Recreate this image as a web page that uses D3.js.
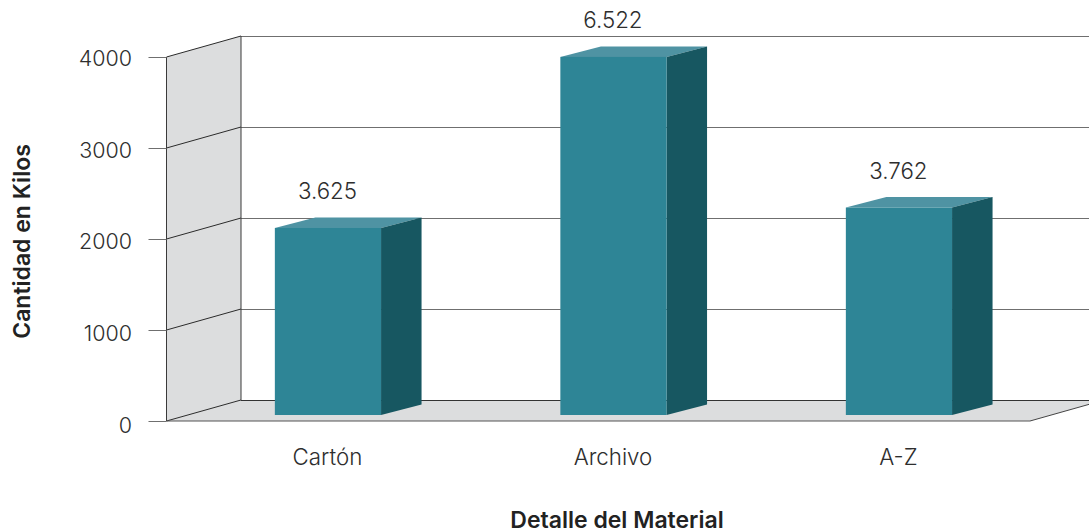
<!DOCTYPE html>
<html>
<head>
<meta charset="utf-8">
<script src="https://cdn.jsdelivr.net/npm/d3@7/dist/d3.min.js"></script>
<style>
html,body{margin:0;padding:0;background:#fff;overflow:hidden}
svg{display:block}
text{font-family:"Inter","Liberation Sans",Arial,sans-serif;fill:#2e2e2e;font-weight:300}
text.title{font-weight:600;fill:#222}
</style>
</head>
<body>
<svg id="c" width="1089" height="532"></svg>
<script>
const categories = ["Cartón", "Archivo", "A-Z"];
const values = [2055, 3935, 2280];
const valueLabels = ["3.625", "6.522", "3.762"];
const yTicks = [0, 1000, 2000, 3000, 4000];
const xTitle = "Detalle del Material";
const yTitle = "Cantidad en Kilos";

const svg = d3.select("#c");
const y = d3.scaleLinear().domain([0, 4000]).range([421, 57]);
const yLabel = d3.scaleLinear().domain([0, 4000]).range([432.5, 66]);
const x = d3.scaleBand().domain(categories).range([185.2, 1041.7]).paddingInner(0.628).paddingOuter(0.314);

const left = 166.5, floorEnd = 1030;
const wallDX = 74.5, wallDY = -21;
const barDX = 40.5, barDY = -10.5, barLift = 6;
const tickSize = 21.5, labelSize = 22.3, titleSize = 23;
const poly = pts => pts.map(p => p.join(",")).join(" ");

// walls
svg.append("polygon").attr("fill", "#dcddde").attr("points", poly([
  [left, y(0)], [left, y(4000)], [left + wallDX, y(4000) + wallDY], [left + wallDX, y(0) + wallDY]
]));
svg.append("polygon").attr("fill", "#dcddde").attr("points", poly([
  [left, y(0)], [left + wallDX, y(0) + wallDY], [floorEnd + wallDX, y(0) + wallDY], [floorEnd, y(0)]
]));

// back grid lines
svg.append("g").selectAll("line").data(yTicks).join("line")
  .attr("x1", left + wallDX).attr("x2", 1089)
  .attr("y1", d => Math.round(y(d) + wallDY) + 0.5).attr("y2", d => Math.round(y(d) + wallDY) + 0.5)
  .attr("stroke", d => d === 0 ? "#333" : "#6f6f6f").attr("stroke-width", 1);

// wall slanted lines
svg.append("g").selectAll("line").data(yTicks).join("line")
  .attr("x1", left).attr("x2", left + wallDX)
  .attr("y1", d => y(d)).attr("y2", d => y(d) + wallDY)
  .attr("stroke", "#2b2b2b").attr("stroke-width", 1);

// wall verticals
[left, left + wallDX].forEach(px => {
  svg.append("line").attr("x1", px).attr("x2", px)
    .attr("y1", y(0) + (px === left ? 0 : wallDY)).attr("y2", y(4000) + (px === left ? 0 : wallDY))
    .attr("stroke", "#3a3a3a").attr("stroke-width", 1);
});

// front floor edge
svg.append("line").attr("x1", left).attr("x2", floorEnd).attr("y1", 421).attr("y2", 421)
  .attr("stroke", "#555").attr("stroke-width", 1.2);
svg.append("line").attr("x1", floorEnd).attr("x2", floorEnd + wallDX).attr("y1", 421).attr("y2", 421 + wallDY)
  .attr("stroke", "#444").attr("stroke-width", 1);

// y axis ticks
const yAxis = d3.axisLeft(y).tickValues(yTicks).tickFormat("").tickSize(18);
const gy = svg.append("g").attr("transform", `translate(${left},0)`).call(yAxis);
gy.select(".domain").remove();
gy.selectAll(".tick line").attr("stroke", "#6f6f6f");

// y labels
svg.append("g").selectAll("text").data(yTicks).join("text")
  .attr("x", 132).attr("y", d => yLabel(d))
  .attr("text-anchor", "end").attr("font-size", tickSize)
  .text(d3.format("d"));

// bars
const bars = svg.append("g").selectAll("g").data(categories).join("g");
const bx = (c) => x(c), bw = x.bandwidth();
const topY = (i) => y(values[i]) - barLift, baseY = y(0) - barLift;
bars.append("polygon").attr("fill", "#4f93a3").attr("points", (c, i) => poly([
  [bx(c), topY(i)], [bx(c) + barDX, topY(i) + barDY], [bx(c) + bw + barDX, topY(i) + barDY], [bx(c) + bw, topY(i)]
]));
bars.append("polygon").attr("fill", "#175761").attr("points", (c, i) => poly([
  [bx(c) + bw, topY(i)], [bx(c) + bw + barDX, topY(i) + barDY], [bx(c) + bw + barDX, baseY + barDY], [bx(c) + bw, baseY]
]));
bars.append("rect").attr("fill", "#2e8596")
  .attr("x", c => bx(c)).attr("width", bw)
  .attr("y", (c, i) => topY(i)).attr("height", (c, i) => baseY - topY(i));

// value labels
svg.append("g").selectAll("text").data(categories).join("text")
  .attr("x", c => bx(c) + bw / 2 - 0.5).attr("y", (c, i) => topY(i) - 29)
  .attr("text-anchor", "middle").attr("font-size", labelSize)
  .text((c, i) => valueLabels[i]);

// category labels
svg.append("g").selectAll("text").data(categories).join("text")
  .attr("x", c => bx(c) + bw / 2 - 0.5).attr("y", 465)
  .attr("text-anchor", "middle").attr("font-size", labelSize)
  .text(c => c);

// titles
svg.append("text").attr("class", "title").attr("x", 617).attr("y", 527.5).attr("text-anchor", "middle")
  .attr("font-size", titleSize).text(xTitle);
svg.append("text").attr("class", "title").attr("transform", "translate(30,241.5) rotate(-90)").attr("text-anchor", "middle")
  .attr("font-size", titleSize).text(yTitle);
</script>
</body>
</html>
